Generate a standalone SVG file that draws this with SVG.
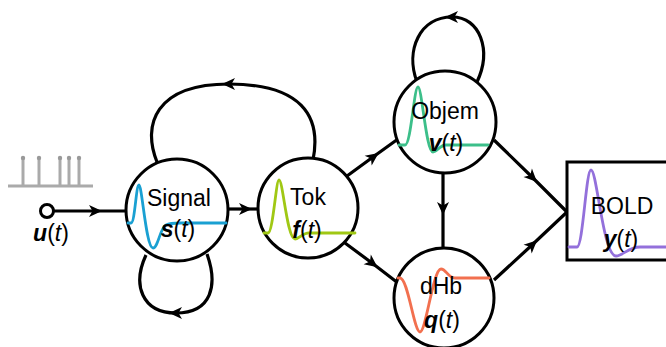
<svg xmlns="http://www.w3.org/2000/svg" width="666" height="347" viewBox="0 0 666 347">
<style>
.node{fill:#fff;stroke:#000;stroke-width:3}
.lbl{font-family:"Liberation Sans",Arial,sans-serif;font-size:23px;fill:#000;text-anchor:middle}
.bi{font-weight:bold;font-style:italic}
.it{font-style:italic}
.wave{fill:none;stroke-width:2.8;stroke-linecap:round;stroke-linejoin:round}
.conn{fill:none;stroke:#000;stroke-width:3.2;marker-mid:url(#arr)}
.spk{stroke:#aaa;stroke-width:3;fill:none}
</style>
<defs>
<marker id="arr" markerUnits="userSpaceOnUse" markerWidth="18" markerHeight="18" viewBox="-9 -9 18 18" refX="0" refY="0" orient="auto">
<path d="M-6,-6 L7,0 L-6,6 L-2.5,0 Z" fill="#000"/>
</marker>
</defs>
<g id="connectors">
<path class="conn" d="M53,211 L95,211 L126,211"/>
<path class="conn" d="M228,209 L245,209 L258,209"/>
<path class="conn" d="M313,160 C322,115 300,84 229,84 C155,84 142,125 157,162"/>
<path class="conn" d="M207,254 C218,285 212,313 176,313 C142,313 132,285 146,255"/>
<path class="conn" d="M477,82 C492,50 480,17 452,17 C420,17 405,50 417,82"/>
<path class="conn" d="M347,176 L373,157 L398,139"/>
<path class="conn" d="M345,243 L372,263 L398,283"/>
<path class="conn" d="M443,173 L443,208 L443,248"/>
<path class="conn" d="M494,140 L532,177 L567,212"/>
<path class="conn" d="M494,280 L532,245 L567,212"/>
</g>
<g id="input">
<line class="spk" x1="8" y1="186" x2="93" y2="186"/>
<line class="spk" x1="23" y1="186" x2="23" y2="159"/>
<line class="spk" x1="39" y1="186" x2="39" y2="159"/>
<line class="spk" x1="60" y1="186" x2="60" y2="159"/>
<line class="spk" x1="69" y1="186" x2="69" y2="159"/>
<line class="spk" x1="79" y1="186" x2="79" y2="159"/>
<g fill="#999"><circle cx="23" cy="158" r="2.2"/><circle cx="39" cy="158" r="2.2"/><circle cx="60" cy="158" r="2.2"/><circle cx="69" cy="158" r="2.2"/><circle cx="79" cy="158" r="2.2"/></g>
<circle cx="47" cy="211" r="6.5" fill="#fff" stroke="#000" stroke-width="3"/>
<text class="lbl" x="51" y="241"><tspan class="bi">u</tspan>(<tspan class="it">t</tspan>)</text>
</g>
<g id="signal">
<circle class="node" cx="177" cy="210" r="51"/>
<path class="wave" stroke="#1aa0d2" d="M128,223 L131,223 C135,223 136,185 139,185 C142,185 146,248 153,248 C158,248 160,228 166,225 C170,223 175,223 180,223 L226,223"/>
<text class="lbl" x="179" y="206">Signal</text>
<text class="lbl" x="178" y="237"><tspan class="bi">s</tspan>(<tspan class="it">t</tspan>)</text>
</g>
<g id="tok">
<circle class="node" cx="308" cy="208" r="50"/>
<path class="wave" stroke="#a0c814" d="M264,233 L268,233 C273,233 276,180 279,180 C283,180 287,239 295,239 C300,239 303,232 310,233 L355,233"/>
<text class="lbl" x="308" y="205">Tok</text>
<text class="lbl" x="307" y="238"><tspan class="bi">f</tspan>(<tspan class="it">t</tspan>)</text>
</g>
<g id="objem">
<circle class="node" cx="445" cy="122" r="51"/>
<path class="wave" stroke="#3cbf8a" d="M399,145 L405,145 C411,145 414,87 418,87 C422,87 426,152 433,152 C437,152 440,145 446,145 L488,145"/>
<text class="lbl" x="445" y="119">Objem</text>
<text class="lbl" x="446" y="151"><tspan class="bi">v</tspan>(<tspan class="it">t</tspan>)</text>
</g>
<g id="dhb">
<circle class="node" cx="444" cy="298" r="50"/>
<path class="wave" stroke="#f2704f" d="M398,278 L400,278 C408,278 414,332 420,332 C426,332 433,269 441,269 C446,269 448,278 455,278 L489,278"/>
<text class="lbl" x="441" y="294">dHb</text>
<text class="lbl" x="442" y="328"><tspan class="bi">q</tspan>(<tspan class="it">t</tspan>)</text>
</g>
<g id="bold">
<rect x="567" y="162" width="110" height="98" fill="#fff" stroke="#000" stroke-width="3"/>
<path class="wave" stroke="#9370db" d="M569,247 L577,247 C583,247 586,170 591,170 C597,170 603,256 616,256 C623,256 628,247 640,247 L666,247"/>
<text class="lbl" x="622" y="214">BOLD</text>
<text class="lbl" x="621" y="247"><tspan class="bi">y</tspan>(<tspan class="it">t</tspan>)</text>
</g>
</svg>
